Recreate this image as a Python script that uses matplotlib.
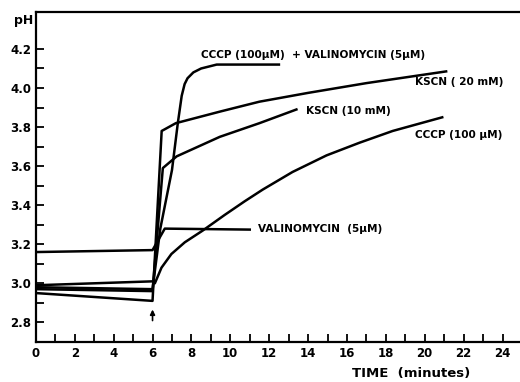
import matplotlib
matplotlib.use('Agg')
import matplotlib.pyplot as plt
import numpy as np

# traces: time (min), pH
cccp_val_t = [0, 6.0, 6.4, 7.0, 7.3, 7.5, 7.65, 7.8, 8.1, 8.5, 9.3, 12.5]
cccp_val_ph = [2.98, 2.97, 3.28, 3.58, 3.82, 3.96, 4.02, 4.05, 4.08, 4.10, 4.12, 4.12]

kscn20_t = [0, 6.0, 6.47, 7.2, 9.5, 11.5, 14.0, 17.0, 21.1]
kscn20_ph = [2.95, 2.91, 3.78, 3.82, 3.88, 3.93, 3.975, 4.025, 4.085]

kscn10_t = [0, 6.0, 6.53, 7.24, 9.46, 11.5, 13.4]
kscn10_ph = [2.97, 2.96, 3.59, 3.65, 3.75, 3.82, 3.89]

cccp_t = [0, 6.0, 6.12, 6.46, 6.97, 7.66, 8.58, 9.71, 10.74, 11.67, 13.2, 14.95, 16.65, 18.35, 20.9]
cccp_ph = [2.99, 3.01, 3.00, 3.08, 3.15, 3.21, 3.27, 3.35, 3.42, 3.48, 3.57, 3.655, 3.72, 3.78, 3.85]

val_t = [0, 6.0, 6.63, 11.0]
val_ph = [3.16, 3.17, 3.28, 3.275]

labels = ['CCCP (100\u03bcM)  + VALINOMYCIN (5\u03bcM)', 'KSCN ( 20 mM)',
          'KSCN (10 mM)', 'CCCP (100 \u03bcM)', 'VALINOMYCIN  (5\u03bcM)']
label_pos = [(8.5, 4.17), (19.5, 4.03), (13.9, 3.88), (19.5, 3.76), (11.4, 3.28)]

fig = plt.figure(figsize=(5.2, 3.82), dpi=100)
ax = fig.add_axes([0.069, 0.105, 0.931, 0.864])

for t, ph in [(cccp_val_t, cccp_val_ph), (kscn20_t, kscn20_ph), (kscn10_t, kscn10_ph),
              (cccp_t, cccp_ph), (val_t, val_ph)]:
    ax.plot(t, ph, color='black', lw=1.8, solid_joinstyle='round')

for txt, (x, y) in zip(labels, label_pos):
    ax.text(x, y, txt, fontsize=7.6, fontweight='bold', va='center', ha='left')

# addition arrow at 6 min
ax.annotate('', xy=(6, 2.88), xytext=(6, 2.795),
            arrowprops=dict(arrowstyle='-|>', color='black', lw=1.2, mutation_scale=7))

ax.set_xlim(0, 24.9)
ax.set_ylim(2.70, 4.39)
ax.set_xticks(np.arange(0, 25, 2))
ax.set_xticks(np.arange(1, 25, 2), minor=True)
ax.set_yticks(np.arange(2.8, 4.21, 0.2))
ax.set_yticks(np.arange(2.9, 4.11, 0.2), minor=True)
ax.set_yticklabels([f'{v:.1f}' for v in np.arange(2.8, 4.21, 0.2)])
ax.tick_params(which='both', direction='in', length=6, width=1.3)
for lab in ax.get_xticklabels() + ax.get_yticklabels():
    lab.set_fontweight('bold')
    lab.set_fontsize(8.5)
ax.spines['right'].set_visible(False)
for s in ['left', 'bottom', 'top']:
    ax.spines[s].set_linewidth(1.6)

ax.text(-0.045, 0.975, 'pH', transform=ax.transAxes, fontsize=9, fontweight='bold',
        ha='left', va='center')
fig.text(0.79, 0.012, 'TIME  (minutes)', fontsize=9.5, fontweight='bold', ha='center')

fig.savefig('out.png', dpi=100)
